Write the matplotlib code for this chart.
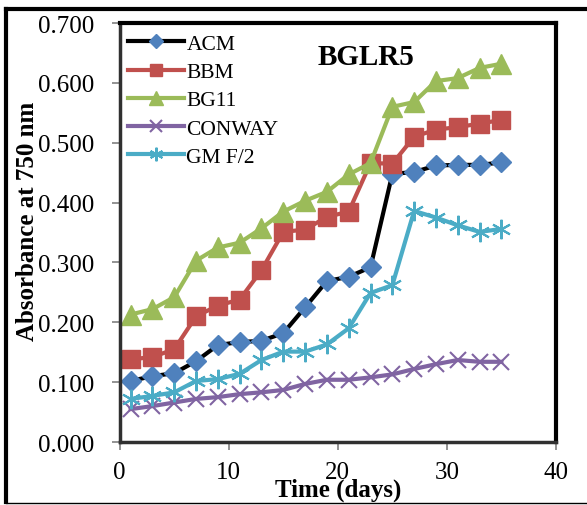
import matplotlib
matplotlib.use("Agg")
import matplotlib.pyplot as plt
from matplotlib.lines import Line2D

plt.rcParams['font.family'] = ['Liberation Serif', 'DejaVu Serif']

days = [1, 3, 5, 7, 9, 11, 13, 15, 17, 19, 21, 23, 25, 27, 29, 31, 33, 35]
acm = [0.102, 0.110, 0.115, 0.135, 0.162, 0.167, 0.169, 0.182, 0.225, 0.269,
       0.276, 0.292, 0.448, 0.451, 0.462, 0.463, 0.463, 0.467]
bbm = [0.138, 0.142, 0.155, 0.210, 0.228, 0.238, 0.287, 0.351, 0.355, 0.376,
       0.385, 0.466, 0.465, 0.510, 0.522, 0.526, 0.532, 0.538]
bg11 = [0.213, 0.222, 0.242, 0.303, 0.325, 0.333, 0.357, 0.385, 0.403, 0.418,
        0.447, 0.466, 0.560, 0.568, 0.603, 0.608, 0.625, 0.632]
conway = [0.055, 0.060, 0.066, 0.072, 0.075, 0.080, 0.083, 0.087, 0.097, 0.104,
          0.104, 0.108, 0.113, 0.122, 0.130, 0.137, 0.134, 0.134]
gmf2 = [0.072, 0.077, 0.083, 0.102, 0.105, 0.114, 0.137, 0.151, 0.151, 0.163,
        0.190, 0.249, 0.262, 0.386, 0.375, 0.362, 0.351, 0.356]

fig = plt.figure(figsize=(5.87, 5.06), dpi=100)
ax = fig.add_axes([0.204, 0.1245, 0.743, 0.828])

# ACM: black line with blue diamonds
ax.plot(days, acm, color='black', lw=3, marker='D', ms=10,
        mfc='#4F81BD', mec='#4F81BD', label='ACM')
ax.plot(days, bbm, color='#C0504D', lw=3, marker='s', ms=13,
        mfc='#C0504D', mec='#C0504D', label='BBM')
ax.plot(days, bg11, color='#9BBB59', lw=3, marker='^', ms=14,
        mfc='#9BBB59', mec='#9BBB59', label='BG11')
ax.plot(days, conway, color='#8064A2', lw=3, marker='x', ms=12, mew=1.5,
        mec='#8064A2', label='CONWAY')
ax.plot(days, gmf2, color='#4BACC6', lw=3, marker=(6, 2, 0), ms=14, mew=1.5,
        mec='#4BACC6', label='GM F/2')

ax.set_xlim(0, 40)
ax.set_ylim(0, 0.7)
ax.set_xticks([0, 10, 20, 30, 40])
ax.set_yticks([0, 0.1, 0.2, 0.3, 0.4, 0.5, 0.6, 0.7])
ax.set_yticklabels(['%.3f' % v for v in ax.get_yticks()])
ax.tick_params(axis='both', labelsize=18, color='#808080', length=6, width=1.2)
ax.tick_params(axis='y', pad=12)
ax.tick_params(axis='x', pad=8)

for s in ['top', 'right']:
    ax.spines[s].set_linewidth(3)
    ax.spines[s].set_color('black')
for s in ['left', 'bottom']:
    ax.spines[s].set_linewidth(2.5)
    ax.spines[s].set_color('#303030')

ax.set_xlabel('Time (days)', fontsize=18, fontweight='bold')
ax.xaxis.set_label_coords(0.5, -0.085)
ax.set_ylabel('Absorbance at 750 nm', fontsize=18, fontweight='bold')
ax.yaxis.set_label_coords(-0.212, 0.53)
ax.yaxis.label.set_verticalalignment('center')

ax.text(0.564, 0.921, 'BGLR5', transform=ax.transAxes, fontsize=21,
        fontweight='bold', ha='center', va='center')

leg = ax.legend(loc='upper left', bbox_to_anchor=(0.0, 0.995), frameon=False,
                fontsize=15.5, handlelength=2.6, handletextpad=0.1,
                labelspacing=0.38, borderaxespad=0.2, borderpad=0.2,
                markerscale=0.7)

# outer frame of the figure
fig.add_artist(Line2D([0.01, 0.01], [0.005, 0.98], transform=fig.transFigure,
                      color='black', lw=3))
fig.add_artist(Line2D([0.01, 1.0], [0.98, 0.98], transform=fig.transFigure,
                      color='black', lw=3))
fig.add_artist(Line2D([0.01, 1.0], [0.004, 0.004], transform=fig.transFigure,
                      color='black', lw=1))

fig.savefig('out.png', dpi=100)
